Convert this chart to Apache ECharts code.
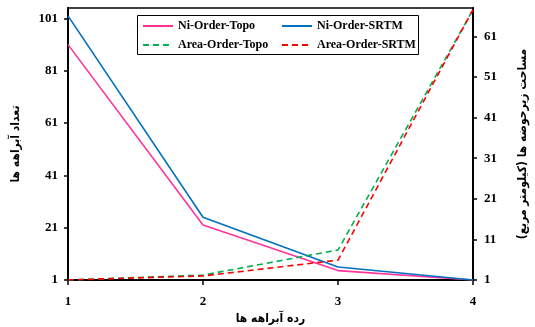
<!DOCTYPE html>
<html><head><meta charset="utf-8">
<script src="https://cdn.jsdelivr.net/npm/echarts@6/dist/echarts.min.js"></script>
<style>html,body{margin:0;padding:0;background:#fff}#c{width:535px;height:327px}</style>
</head><body><div id="c"></div>
<script>
var categories = ['1', '2', '3', '4'];
var niTopo = [91, 22, 4.6, 1];
var niSrtm = [102, 25, 6, 1];
var areaTopo = [1, 2.2, 8.4, 67.6];
var areaSrtm = [1, 2.0, 5.9, 67.6];
var leftTicks = {min: 1, max: 105, interval: 20};
var rightTicks = {min: 1, max: 68, interval: 10};

var serif = "'Liberation Serif','Times New Roman',serif";
var arab = "'DejaVu Sans Condensed','DejaVu Sans','Noto Sans',sans-serif";
var chart = echarts.init(document.getElementById('c'), null, {renderer: 'canvas'});
function lineSeries(name, data, color, dashed, yIdx) {
  return {
    name: name, type: 'line', data: data, yAxisIndex: yIdx,
    symbol: 'none', smooth: false, z: 3,
    lineStyle: {color: color, width: 1.6, type: dashed ? [6, 4] : 'solid'},
    itemStyle: {color: color}
  };
}
var legendText = {fontFamily: serif, fontWeight: 'bold', fontSize: 12, color: '#000'};
var nameStyle = {fontFamily: arab, fontWeight: 'bold', fontSize: 12, color: '#000'};
chart.setOption({
  animation: false,
  grid: {left: 68, right: 62, top: 8, bottom: 47, show: true, borderColor: '#000', borderWidth: 1.5,
         backgroundColor: 'transparent', containLabel: false, outerBoundsMode: 'none'},
  legend: [{
    data: ['Ni-Order-Topo', 'Area-Order-Topo'], orient: 'vertical', left: 142, top: 20, padding: 0,
    itemWidth: 30, itemHeight: 10, itemGap: 7, z: 20, textStyle: legendText,
    itemStyle: {opacity: 0}
  }, {
    data: ['Ni-Order-SRTM', 'Area-Order-SRTM'], orient: 'vertical', left: 281, top: 20, padding: 0,
    itemWidth: 30, itemHeight: 10, itemGap: 7, z: 20, textStyle: legendText,
    itemStyle: {opacity: 0}
  }],
  graphic: [{type: 'rect', left: 137, top: 15, z: 5, shape: {width: 281, height: 39}, style: {fill: '#fff', stroke: '#000', lineWidth: 1}}],
  xAxis: {
    type: 'category', data: categories, boundaryGap: false,
    name: 'رده آبراهه ها', nameLocation: 'middle', nameGap: 28, nameTextStyle: nameStyle,
    axisLine: {lineStyle: {color: '#000', width: 2}},
    axisTick: {show: true, inside: false, length: 5, alignWithLabel: true, lineStyle: {color: '#000', width: 1.5}},
    axisLabel: {margin: 15, fontFamily: serif, fontWeight: 'bold', fontSize: 13, color: '#000'},
    splitLine: {show: false}
  },
  yAxis: [{
    type: 'value', position: 'left', min: leftTicks.min, max: leftTicks.max, interval: leftTicks.interval,
    name: 'تعداد آبراهه ها', nameLocation: 'middle', nameGap: 46, nameRotate: 90, nameTextStyle: nameStyle,
    axisLine: {show: true, lineStyle: {color: '#000', width: 2}},
    axisTick: {show: true, length: 4, lineStyle: {color: '#000', width: 1.5}},
    axisLabel: {margin: 10, showMaxLabel: false, fontFamily: serif, fontWeight: 'bold', fontSize: 13, color: '#000'},
    splitLine: {show: false}
  }, {
    type: 'value', position: 'right', min: rightTicks.min, max: rightTicks.max, interval: rightTicks.interval,
    name: 'مساحت زیرحوضه ها (کیلومتر مربع)', nameLocation: 'middle', nameGap: 44, nameRotate: 90, nameTextStyle: nameStyle,
    axisLine: {show: true, lineStyle: {color: '#000', width: 2}},
    axisTick: {show: true, length: 4, lineStyle: {color: '#000', width: 1.5}},
    axisLabel: {margin: 11, showMaxLabel: false, fontFamily: serif, fontWeight: 'bold', fontSize: 13, color: '#000'},
    splitLine: {show: false}
  }],
  series: [
    lineSeries('Ni-Order-Topo', niTopo, '#ff3399', false, 0),
    lineSeries('Ni-Order-SRTM', niSrtm, '#0070c0', false, 0),
    lineSeries('Area-Order-Topo', areaTopo, '#00b050', true, 1),
    lineSeries('Area-Order-SRTM', areaSrtm, '#ff0000', true, 1)
  ]
});
</script></body></html>
